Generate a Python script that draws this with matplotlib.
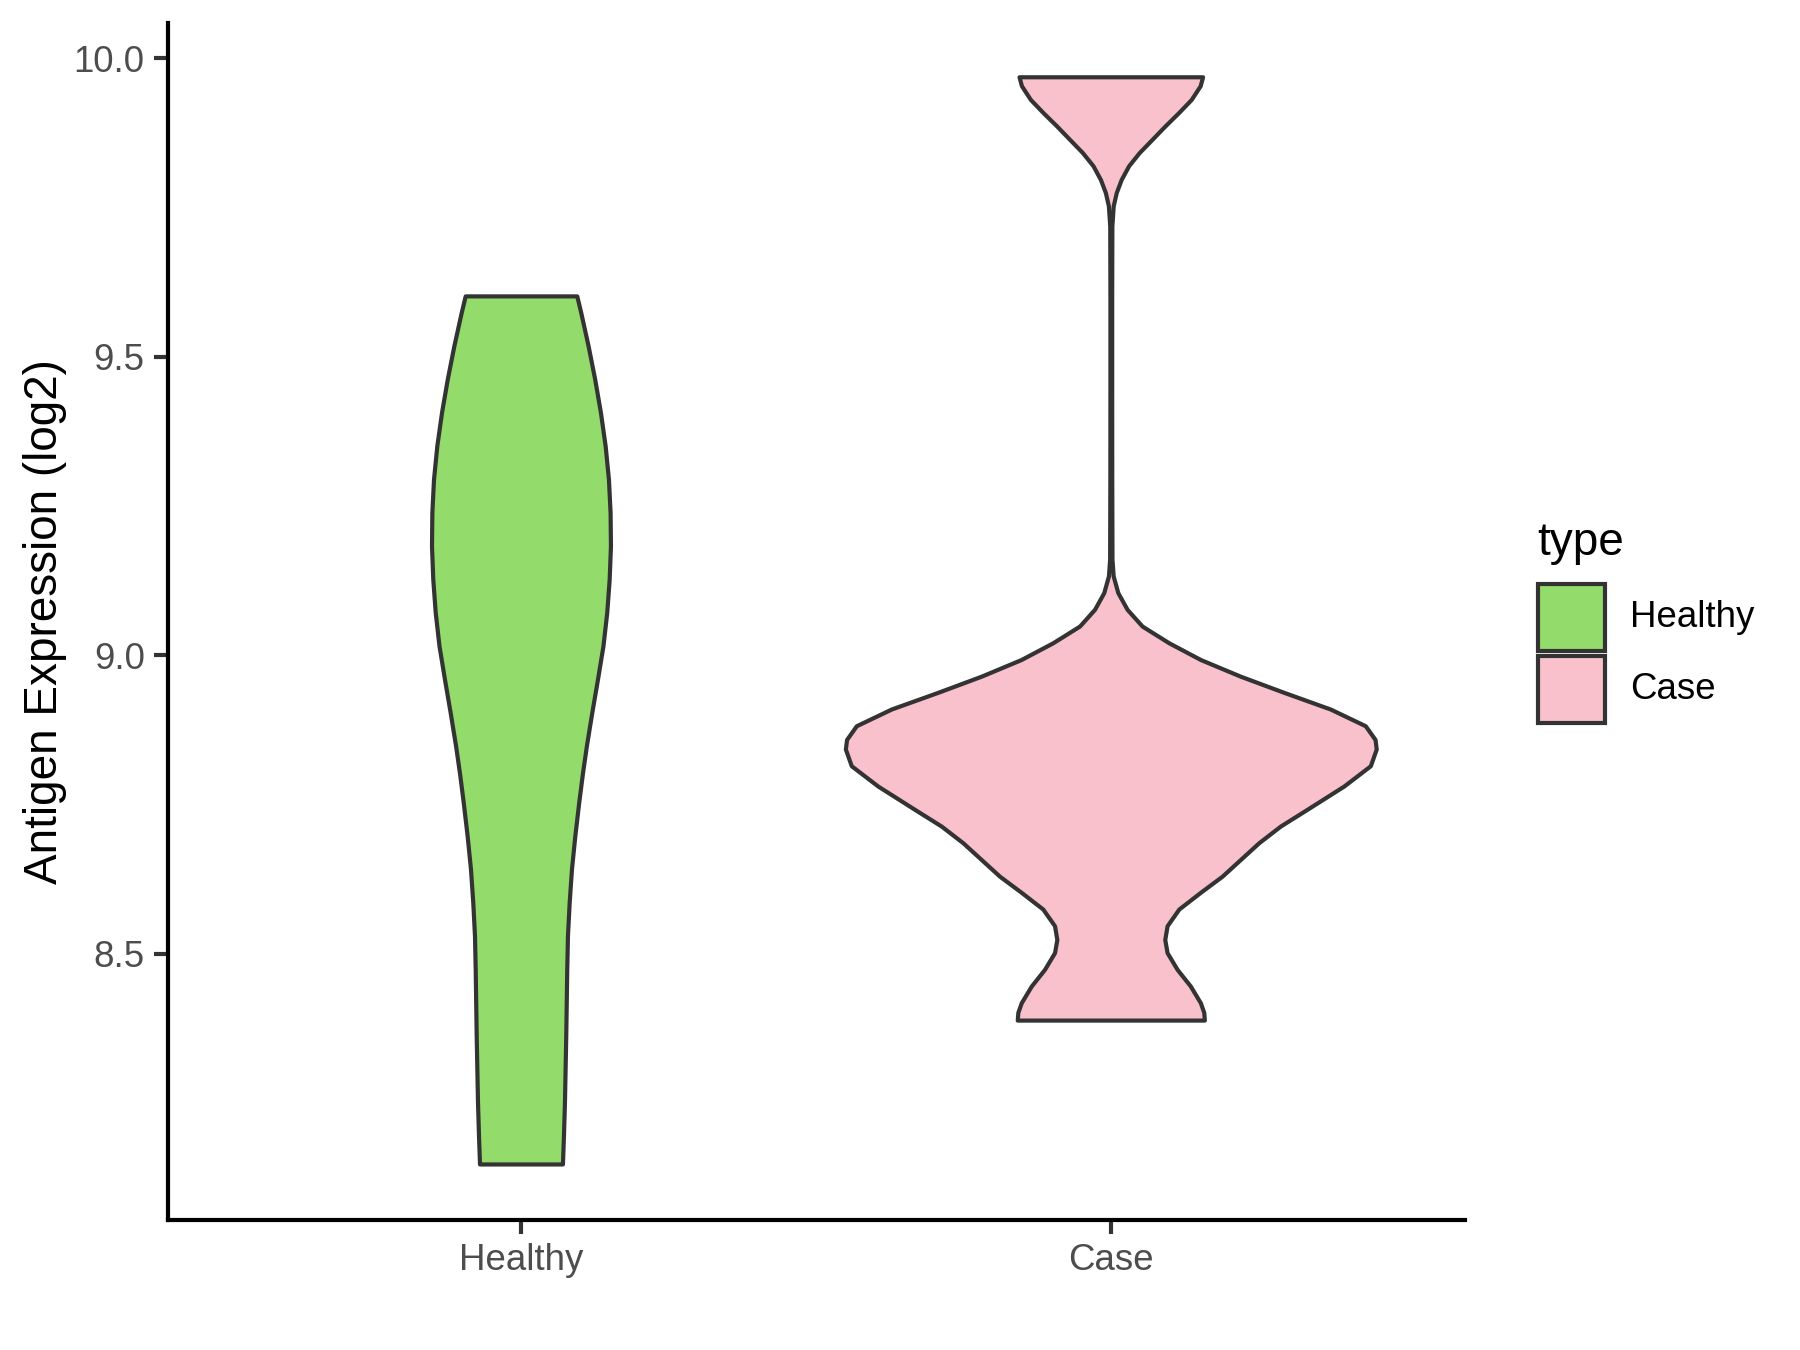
import numpy as np
import matplotlib
matplotlib.use('Agg')
import matplotlib.pyplot as plt
from matplotlib.patches import Rectangle

plt.rcParams['font.family'] = ['Liberation Sans', 'DejaVu Sans']

categories = ['Healthy', 'Case']
colors = ['#93DB6A', '#F8C1CC']

# violin outlines: value and half-width (x units)
healthy_y = [8.147, 8.194, 8.250, 8.361, 8.473, 8.529, 8.585, 8.641, 8.696, 8.752,
             8.800, 8.847, 8.903, 8.959, 9.015, 9.071, 9.126, 9.182, 9.238, 9.294,
             9.350, 9.406, 9.461, 9.517, 9.573, 9.601]
healthy_w = [0.0703, 0.0720, 0.0737, 0.0759, 0.0776, 0.0788, 0.0817, 0.0856, 0.0912, 0.0978,
             0.1040, 0.1108, 0.1200, 0.1297, 0.1390, 0.1454, 0.1495, 0.1517, 0.1511, 0.1483,
             0.1427, 0.1347, 0.1251, 0.1139, 0.1014, 0.0946]

case_y = [8.388, 8.401, 8.417, 8.445, 8.473, 8.501, 8.523, 8.546, 8.574, 8.602,
          8.629, 8.657, 8.685, 8.713, 8.741, 8.780, 8.814, 8.842, 8.858, 8.881,
          8.909, 8.937, 8.964, 8.992, 9.020, 9.048, 9.076, 9.104, 9.132, 9.160,
          9.300, 9.450, 9.600, 9.718, 9.752, 9.774, 9.796, 9.819, 9.841, 9.863,
          9.886, 9.908, 9.930, 9.953, 9.968]
case_w = [0.1586, 0.1576, 0.1519, 0.1349, 0.1124, 0.0954, 0.0915, 0.0954, 0.1153, 0.1519,
          0.1886, 0.2197, 0.2508, 0.2875, 0.3327, 0.3950, 0.4400, 0.4500, 0.4480, 0.4315,
          0.3722, 0.2932, 0.2197, 0.1519, 0.0983, 0.0530, 0.0276, 0.0119, 0.0040, 0.0020,
          0.0016, 0.0015, 0.0015, 0.0018, 0.0041, 0.0092, 0.0176, 0.0302, 0.0481, 0.0697,
          0.0922, 0.1149, 0.1363, 0.1515, 0.1556]

yticks = [8.5, 9.0, 9.5, 10.0]

fig = plt.figure(figsize=(6, 4.5), dpi=300)
ax = fig.add_axes([0.0931, 0.0963, 0.7209, 0.8867])

lw = 1.0
for i, (ys, ws) in enumerate([(healthy_y, healthy_w), (case_y, case_w)]):
    pos = i + 1
    ys = np.array(ys)
    ws = np.array(ws)
    xs = np.concatenate([pos + ws, (pos - ws)[::-1]])
    yy = np.concatenate([ys, ys[::-1]])
    ax.fill(xs, yy, facecolor=colors[i], edgecolor='#333333', linewidth=lw,
            joinstyle='round', zorder=2)

ax.set_xlim(0.4, 2.6)
ax.set_ylim(8.054, 10.059)
ax.set_xticks([1, 2])
ax.set_xticklabels(categories)
ax.set_yticks(yticks)
ax.set_yticklabels(['%.1f' % t for t in yticks])
ax.tick_params(axis='both', length=2.75 * 1.2, width=lw, color='#333333',
               labelsize=8.8, labelcolor='#4D4D4D', pad=2.2)
for s in ['top', 'right']:
    ax.spines[s].set_visible(False)
for s in ['left', 'bottom']:
    ax.spines[s].set_linewidth(lw)
    ax.spines[s].set_color('black')
ax.set_ylabel('Antigen Expression (log2)', fontsize=11, color='black', labelpad=1.5)

# legend
fig.text(0.854, 0.589, 'type', fontsize=11, ha='left', va='baseline')
key_bottoms = [0.5178, 0.4644]
for i, lab in enumerate(categories):
    fig.add_artist(Rectangle((0.8544, key_bottoms[i]), 0.0372, 0.0496,
                             transform=fig.transFigure, facecolor=colors[i],
                             edgecolor='#333333', linewidth=lw))
    fig.text(0.9055, key_bottoms[i] + 0.0248, lab, fontsize=8.8, ha='left',
             va='center')

fig.savefig('out.png', dpi=300)
